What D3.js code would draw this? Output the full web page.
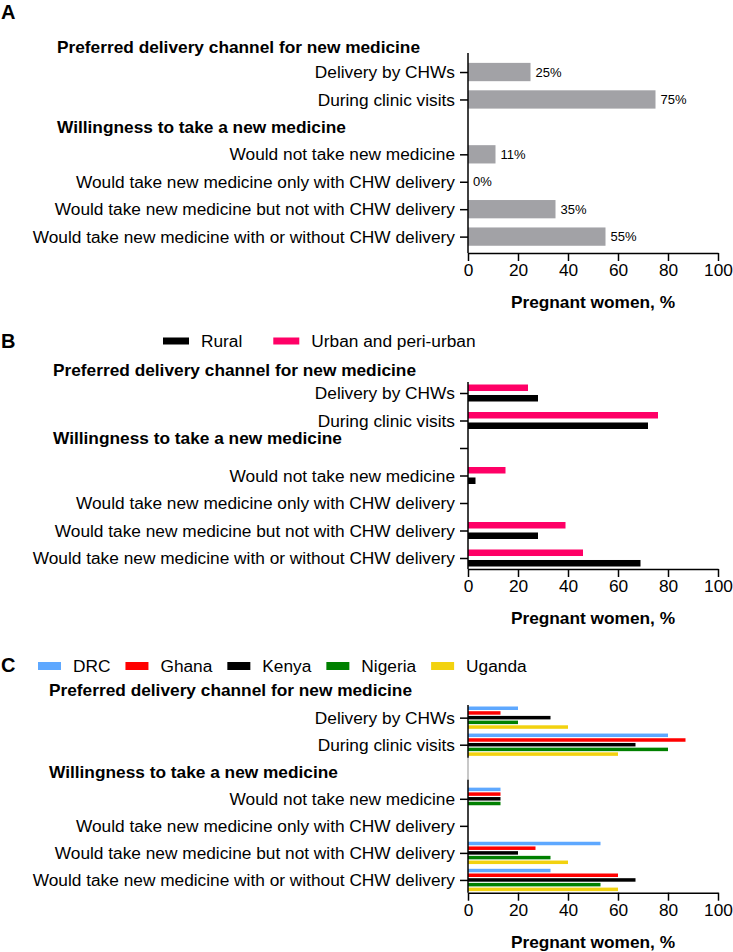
<!DOCTYPE html>
<html>
<head>
<meta charset="utf-8">
<script src="https://cdn.jsdelivr.net/npm/d3@7"></script>
<style>
  body { margin: 0; background: #fff; }
  svg { font-family: "Liberation Sans", Arial, sans-serif; }
</style>
</head>
<body>
<div id="container"></div>
<script>
/* DATA */
const headers = ["Preferred delivery channel for new medicine", "Willingness to take a new medicine"];
const rowLabels = [
  "Delivery by CHWs",
  "During clinic visits",
  "Would not take new medicine",
  "Would take new medicine only with CHW delivery",
  "Would take new medicine but not with CHW delivery",
  "Would take new medicine with or without CHW delivery"
];
// panel A, all pregnant women
const overallValues = [25, 75, 11, 0, 35, 55];
// panel B
const settingNames = ["Rural", "Urban and peri-urban"];
const ruralValues = [28, 72, 3, 0, 28, 69];
const urbanValues = [24, 76, 15, 0, 39, 46];
// panel C
const countryNames = ["DRC", "Ghana", "Kenya", "Nigeria", "Uganda"];
const drcValues = [20, 80, 13, 0, 53, 33];
const ghanaValues = [13, 87, 13, 0, 27, 60];
const kenyaValues = [33, 67, 13, 0, 20, 67];
const nigeriaValues = [20, 80, 13, 0, 33, 53];
const ugandaValues = [40, 60, 0, 0, 40, 60];
const xTicks = [0, 20, 40, 60, 80, 100];
const xTitle = "Pregnant women, %";

/* CONSTANTS */
const width = 733, height = 952;
const left = 468, right = 718;
const fs = 17.3; // main font size
// row keys: header rows are empty slots on the y axis
const rows = ["h1", rowLabels[0], rowLabels[1], "h2", rowLabels[2], rowLabels[3], rowLabels[4], rowLabels[5]];

const svg = d3.select("#container").append("svg")
  .attr("width", width)
  .attr("height", height);

const xScale = d3.scaleLinear().domain([0, 100]).range([left, right]);

function drawPanel(p) {
  const g = svg.append("g");
  const yScale = d3.scalePoint().domain(rows).range([p.row0, p.row0 + 7 * p.step]);

  // panel letter
  g.append("text")
    .attr("x", 1).attr("y", p.letterY)
    .attr("font-size", 20).attr("font-weight", "bold")
    .text(p.letter);

  // headers
  headers.forEach((h, i) => {
    g.append("text")
      .attr("x", p.headerX)
      .attr("y", yScale(i === 0 ? "h1" : "h2") + p.headerOff[i])
      .attr("dy", "0.35em")
      .attr("font-size", fs).attr("font-weight", "bold")
      .text(h);
  });

  // bars
  const inner = d3.scaleBand().domain(p.series.map(s => s.name))
    .range([-p.groupH / 2, p.groupH / 2]).paddingInner(p.pad);

  p.series.forEach(s => {
    g.selectAll(null)
      .data(rowLabels.map((r, i) => ({ row: r, v: s.values[i] })))
      .join("rect")
      .attr("x", xScale(0))
      .attr("y", d => yScale(d.row) + inner(s.name))
      .attr("width", d => xScale(d.v) - xScale(0))
      .attr("height", inner.bandwidth())
      .attr("fill", s.color);
  });

  // value labels (panel A only)
  if (p.labels) {
    g.selectAll(null)
      .data(rowLabels.map((r, i) => ({ row: r, v: p.series[0].values[i] })))
      .join("text")
      .attr("x", d => xScale(d.v) + 5)
      .attr("y", d => yScale(d.row))
      .attr("dy", "0.35em")
      .attr("font-size", 13)
      .text(d => d.v + "%");
  }

  // y axis
  const yAxis = d3.axisLeft(yScale)
    .tickValues(p.yTicks)
    .tickFormat(d => (d === "h1" || d === "h2") ? "" : d)
    .tickSizeInner(8).tickSizeOuter(0).tickPadding(5);
  const ya = g.append("g").attr("transform", `translate(${left},0)`).call(yAxis);
  ya.select(".domain").remove();
  ya.selectAll("line").attr("stroke-width", 1.5);
  ya.selectAll("text").attr("font-size", fs).attr("fill", "#000").attr("font-family", null);
  g.append("line")
    .attr("x1", left).attr("x2", left)
    .attr("y1", p.axisTop).attr("y2", p.xAxisY)
    .attr("stroke", "#000").attr("stroke-width", 1.5);
  if (p.greySeg) {
    g.append("line")
      .attr("x1", left).attr("x2", left)
      .attr("y1", yScale("h2") - 14).attr("y2", yScale("h2") + 8)
      .attr("stroke", "#c8c8c8").attr("stroke-width", 2);
  }

  // x axis
  const xAxis = d3.axisBottom(xScale)
    .tickValues(xTicks)
    .tickSizeInner(8).tickSizeOuter(0).tickPadding(3);
  const xa = g.append("g").attr("transform", `translate(0,${p.xAxisY})`).call(xAxis);
  xa.select(".domain").attr("stroke-width", 1.5);
  xa.selectAll("line").attr("stroke-width", 1.5);
  xa.selectAll("text").attr("font-size", fs).attr("fill", "#000").attr("font-family", null);

  g.append("text")
    .attr("x", (left + right) / 2)
    .attr("y", p.xAxisY + 55)
    .attr("text-anchor", "middle")
    .attr("font-size", fs).attr("font-weight", "bold")
    .text(xTitle);

  // legend
  if (p.legend) {
    let lx = p.legend.x;
    p.legend.items.forEach(it => {
      g.append("rect")
        .attr("x", lx).attr("y", p.legend.y - p.legend.h / 2)
        .attr("width", p.legend.w).attr("height", p.legend.h)
        .attr("fill", it.color);
      const t = g.append("text")
        .attr("x", lx + p.legend.w + 12)
        .attr("y", p.legend.y)
        .attr("dy", "0.35em")
        .attr("font-size", fs)
        .text(it.name);
      lx = lx + p.legend.w + 12 + t.node().getComputedTextLength() + p.legend.gap;
    });
  }
}

/* PANEL A */
drawPanel({
  letter: "A", letterY: 19,
  row0: 44.6, step: 27.43, axisTop: 53, xAxisY: 253,
  headerX: 57, headerOff: [2.5, 0.5],
  series: [{ name: "All", values: overallValues, color: "#a2a2a6" }],
  groupH: 18.3, pad: 0,
  labels: true,
  yTicks: [rowLabels[0], rowLabels[1], rowLabels[2], rowLabels[3], rowLabels[4], rowLabels[5]]
});

/* PANEL B */
const settingColors = ["#000000", "#ff0066"];
drawPanel({
  letter: "B", letterY: 348,
  row0: 365.5, step: 27.5, axisTop: 382, xAxisY: 569,
  headerX: 53, headerOff: [4.5, -10.5],
  series: [
    { name: settingNames[1], values: urbanValues, color: settingColors[1] },
    { name: settingNames[0], values: ruralValues, color: settingColors[0] }
  ],
  groupH: 17, pad: 0.38,
  labels: false,
  yTicks: [rowLabels[0], rowLabels[1], "h2", rowLabels[2], rowLabels[3], rowLabels[4], rowLabels[5]],
  legend: { x: 163, y: 341, w: 26, h: 7, gap: 31,
    items: settingNames.map((n, i) => ({ name: n, color: settingColors[i] })) }
});

/* PANEL C */
const countryColors = ["#5ea8ff", "#ff0000", "#000000", "#008000", "#f2d20f"];
const countryValues = [drcValues, ghanaValues, kenyaValues, nigeriaValues, ugandaValues];
drawPanel({
  letter: "C", letterY: 672,
  row0: 690.6, step: 27.05, axisTop: 705, xAxisY: 892.7,
  headerX: 49, headerOff: [-1, 0],
  series: countryNames.map((n, i) => ({ name: n, values: countryValues[i], color: countryColors[i] })),
  groupH: 22.3, pad: 0.255,
  labels: false,
  greySeg: true,
  yTicks: [rowLabels[0], rowLabels[1], rowLabels[2], rowLabels[3], rowLabels[4], rowLabels[5]],
  legend: { x: 38, y: 666, w: 23, h: 8, gap: 15,
    items: countryNames.map((n, i) => ({ name: n, color: countryColors[i] })) }
});
</script>
</body>
</html>
